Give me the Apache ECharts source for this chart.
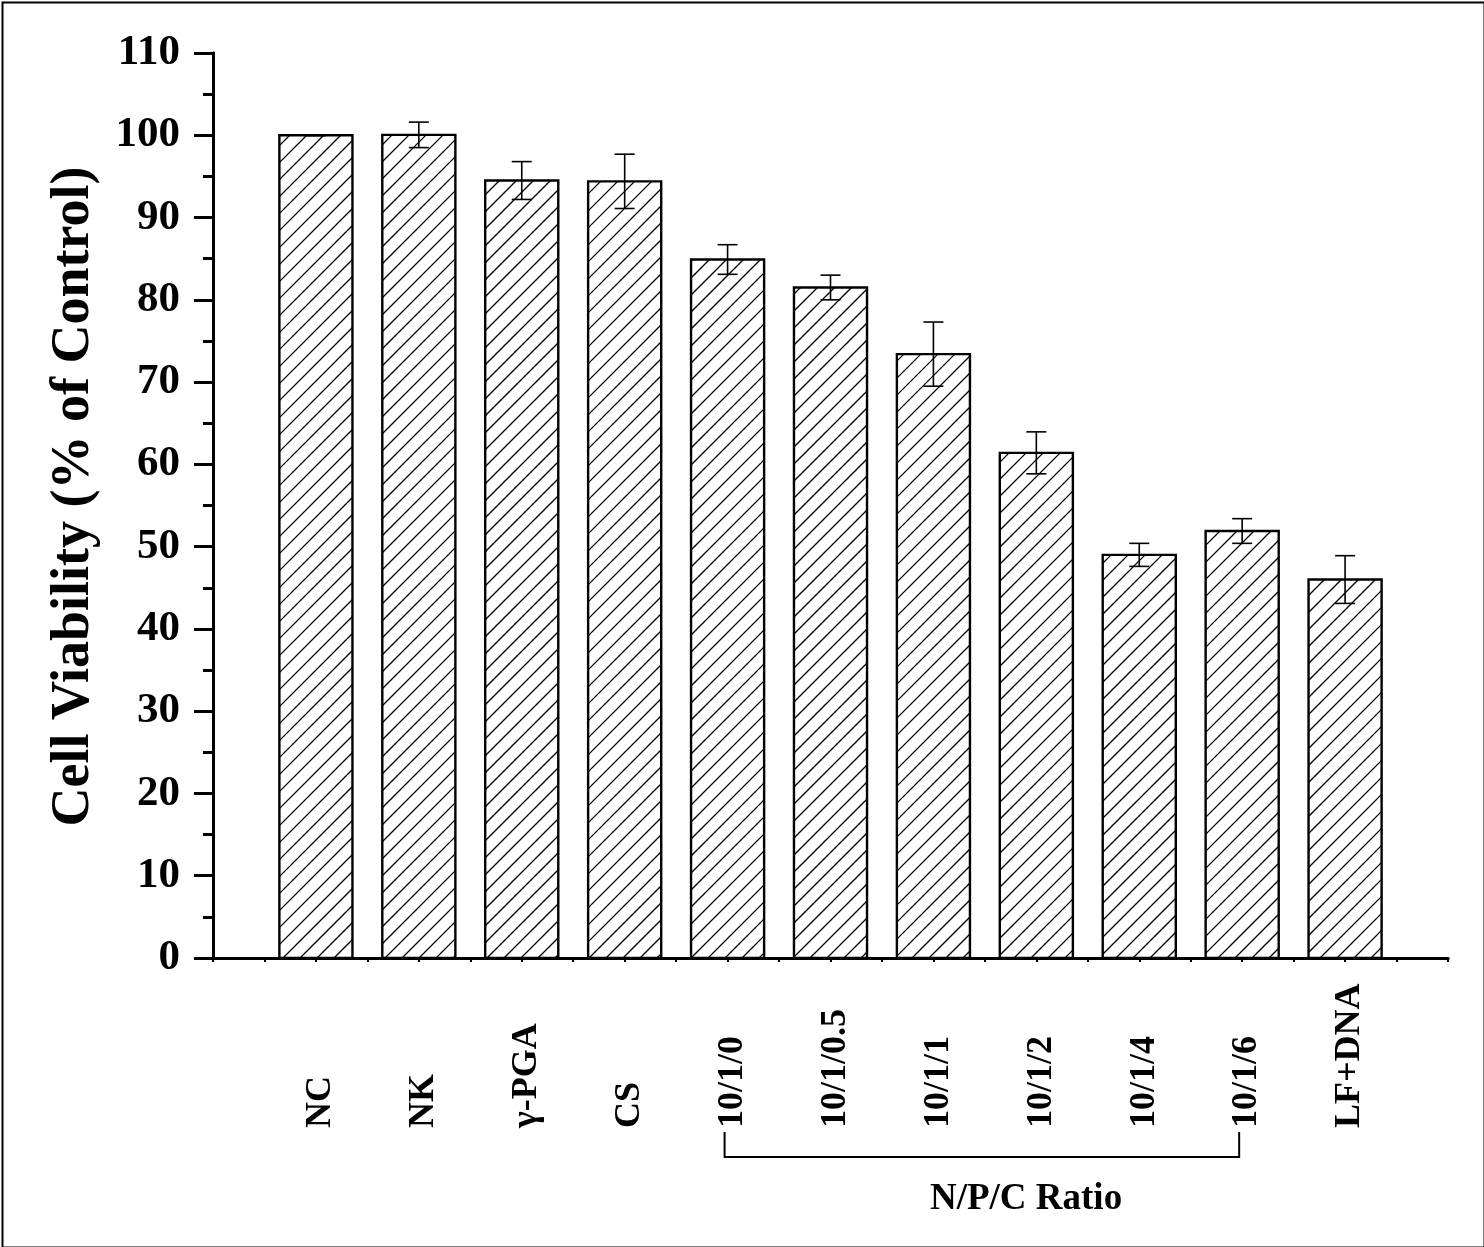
<!DOCTYPE html>
<html>
<head>
<meta charset="utf-8">
<script src="https://cdn.jsdelivr.net/npm/echarts@6/dist/echarts.min.js"></script>
<style>
html,body{margin:0;padding:0;background:#fff;}
#chart{width:1484px;height:1247px;}
</style>
</head>
<body>
<div id="chart"></div>
<script>
// ---- data ----
const categories = ['NC', 'NK', 'γ-PGA', 'CS', '10/1/0', '10/1/0.5', '10/1/1', '10/1/2', '10/1/4', '10/1/6', 'LF+DNA'];
const viability = [100.0, 100.05, 94.5, 94.4, 84.9, 81.5, 73.4, 61.4, 49.0, 51.9, 46.0];
const errors = [0.05, 1.55, 2.3, 3.3, 1.8, 1.5, 3.9, 2.55, 1.4, 1.5, 2.9];
const groupLabel = 'N/P/C Ratio';
const groupFirst = '10/1/0';
const groupLast = '10/1/6';
const yTitle = 'Cell Viability (% of Control)';
const yMin = 0, yMax = 110, yStep = 10;

const FONT = '"Liberation Serif", "Times New Roman", serif';
const chart = echarts.init(document.getElementById('chart'), null, {renderer: 'canvas'});

const barData = viability.map((v, i) => [i + 1, v, errors[i]]);
const labelData = categories.map((c, i) => [i + 1, 0]);
const gFirst = categories.indexOf(groupFirst) + 1;
const gLast = categories.indexOf(groupLast) + 1;

function renderBar(params, api) {
  const x = api.value(0), v = api.value(1), e = api.value(2);
  const top = api.coord([x, v]);
  const base = api.coord([x, 0]);
  const w = api.size([0.71, 0])[0];
  const x0 = top[0] - w / 2, x1 = top[0] + w / 2;
  const y0 = top[1], y1 = base[1];
  const children = [];
  children.push({type: 'rect', shape: {x: x0, y: y0, width: w, height: y1 - y0},
    style: {fill: '#fff', stroke: null}});
  // hatch lines "/" : x + y = k
  const sp = 17;
  const kStart = Math.ceil((x0 + y0) / sp) * sp;
  for (let k = kStart; k <= x1 + y1; k += sp) {
    const xa = Math.max(x0, k - y1), xb = Math.min(x1, k - y0);
    if (xb > xa) {
      children.push({type: 'line', shape: {x1: xa, y1: k - xa, x2: xb, y2: k - xb},
        style: {stroke: '#000', lineWidth: 1.3}});
    }
  }
  children.push({type: 'rect', shape: {x: x0, y: y0, width: w, height: y1 - y0},
    style: {fill: null, stroke: '#000', lineWidth: 2.4}});
  // error bar
  const pu = api.coord([x, v + e]), pl = api.coord([x, v - e]);
  const cap = 10;
  children.push({type: 'line', shape: {x1: pu[0], y1: pu[1], x2: pl[0], y2: pl[1]}, style: {stroke: '#000', lineWidth: 1.6}});
  children.push({type: 'line', shape: {x1: pu[0] - cap, y1: pu[1], x2: pu[0] + cap, y2: pu[1]}, style: {stroke: '#000', lineWidth: 1.6}});
  children.push({type: 'line', shape: {x1: pl[0] - cap, y1: pl[1], x2: pl[0] + cap, y2: pl[1]}, style: {stroke: '#000', lineWidth: 1.6}});
  return {type: 'group', children: children};
}

function renderLabel(params, api) {
  const p = api.coord([api.value(0), 0]);
  return {type: 'text', x: p[0] + 5, y: p[1] + 170, rotation: Math.PI / 2,
    style: {text: categories[params.dataIndex], font: 'bold 36px ' + FONT, fill: '#000',
      align: 'left', verticalAlign: 'middle'}};
}

function renderGroup(params, api) {
  const a = api.coord([api.value(0), 0]);
  const b = api.coord([api.value(1), 0]);
  const yTop = a[1] + 174, yBot = a[1] + 199;
  const xa = a[0] - 3, xb = b[0] - 3;
  const mid = api.coord([(api.value(0) + api.value(1)) / 2 + 0.4, 0]);
  return {type: 'group', children: [
    {type: 'polyline', shape: {points: [[xa, yTop], [xa, yBot], [xb, yBot], [xb, yTop]]},
      style: {stroke: '#000', lineWidth: 2, fill: null}},
    {type: 'text', x: mid[0], y: a[1] + 241,
      style: {text: groupLabel, font: 'bold 37px ' + FONT, fill: '#000', align: 'center', verticalAlign: 'middle'}}
  ]};
}

const axisLine = {show: true, lineStyle: {color: '#000', width: 3}};

const option = {
  backgroundColor: '#fff',
  animation: false,
  graphic: [{type: 'rect', left: 0, top: 0, shape: {x: 1, y: 1, width: 1482, height: 1245},
    style: {fill: null, stroke: '#000', lineWidth: 2}, silent: true}],
  grid: {left: 213, right: 36, top: 53, bottom: 289, containLabel: false},
  xAxis: [
    {type: 'value', position: 'bottom', min: 0, max: 12, interval: 0.5,
      axisLine: axisLine, axisTick: {show: true, length: 4, lineStyle: {color: '#000', width: 2}},
      axisLabel: {show: false}, splitLine: {show: false}},
    {type: 'value', position: 'top', min: 0, max: 12, interval: 0.5,
      axisLine: axisLine, axisTick: {show: true, inside: true, length: 3, lineStyle: {color: '#000', width: 2}},
      axisLabel: {show: false}, splitLine: {show: false}}
  ],
  yAxis: [
    {type: 'value', position: 'left', min: yMin, max: yMax, interval: yStep,
      name: yTitle, nameLocation: 'middle', nameGap: 112, nameRotate: 90,
      nameTextStyle: {fontFamily: FONT, fontWeight: 'bold', fontSize: 54, color: '#000', padding: [0, 0, 0, 18]},
      axisLine: axisLine,
      axisTick: {show: true, length: 19, lineStyle: {color: '#000', width: 3}},
      minorTick: {show: true, splitNumber: 2, length: 10, lineStyle: {color: '#000', width: 3}},
      axisLabel: {margin: 33, fontFamily: FONT, fontWeight: 'bold', fontSize: 43, color: '#000'},
      splitLine: {show: false}, minorSplitLine: {show: false}},
    {type: 'value', position: 'right', min: yMin, max: yMax, interval: 5, alignTicks: false,
      axisLine: axisLine,
      axisTick: {show: true, inside: true, length: 4, lineStyle: {color: '#000', width: 2}},
      axisLabel: {show: false}, splitLine: {show: false}}
  ],
  series: [
    {type: 'custom', name: 'bars', xAxisIndex: 0, yAxisIndex: 0, renderItem: renderBar,
      encode: {x: 0, y: 1}, data: barData, z: 2},
    {type: 'custom', name: 'labels', xAxisIndex: 0, yAxisIndex: 0, renderItem: renderLabel,
      encode: {x: 0, y: 1}, data: labelData, clip: false, silent: true},
    {type: 'custom', name: 'group', xAxisIndex: 0, yAxisIndex: 0, renderItem: renderGroup,
      encode: {x: [0, 1]}, data: [[gFirst, gLast]], clip: false, silent: true}
  ]
};
chart.setOption(option);
</script>
</body>
</html>
